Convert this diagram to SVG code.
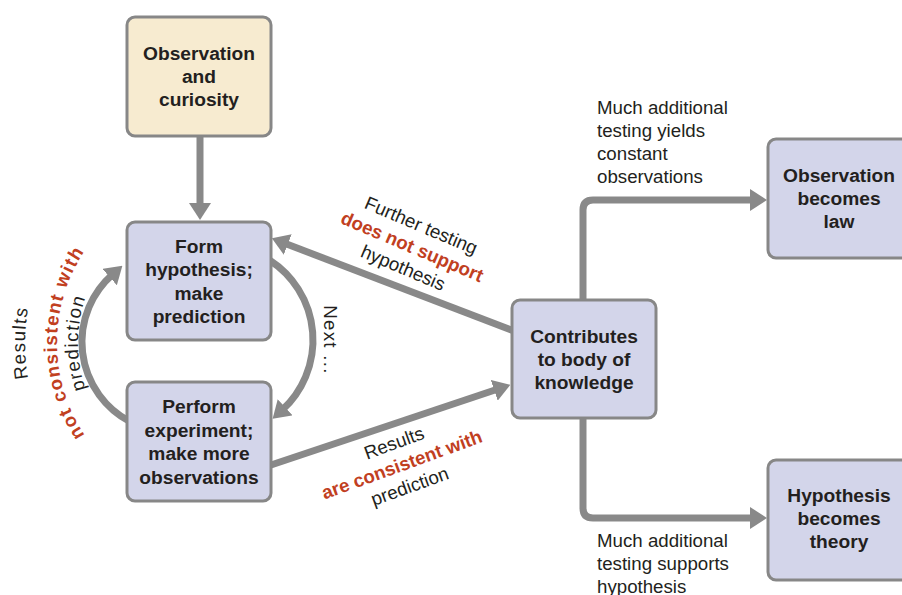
<svg xmlns="http://www.w3.org/2000/svg" width="902" height="595" viewBox="0 0 902 595">
<style>
.box{fill:#d3d5ea;stroke:#878787;stroke-width:3}
.start{fill:#f7ebd0;stroke:#878787;stroke-width:3}
.nl{font-family:"Liberation Sans",Arial,sans-serif;font-weight:bold;font-size:19.2px;fill:#231f20;text-anchor:middle}
.lb{font-family:"Liberation Sans",Arial,sans-serif;font-size:18.7px;fill:#231f20}
.red{font-weight:bold;fill:#c1401f}
.sp{letter-spacing:1.3px}
.con{fill:none;stroke:#898989;stroke-width:7;marker-end:url(#ah)}
</style>
<defs>
<marker id="ah" markerUnits="userSpaceOnUse" markerWidth="17" markerHeight="22" viewBox="0 0 17 22" refX="4" refY="11" orient="auto">
<path d="M0,0 L17,11 L0,22 z" fill="#898989"/>
</marker>
<path id="arcR" d="M124.5,515.3 A199,199 0 0 1 124.5,170.7"/>
<path id="arcN" d="M140.5,487.6 A167,167 0 0 1 140.5,198.4"/>
<path id="arcP" d="M151,469.4 A146,146 0 0 1 151,216.6"/>
</defs>

<g id="connectors">
<path class="con" d="M200,135 V207"/>
<path class="con" d="M514,331 L284,243"/>
<path class="con" d="M268,466 L498,389"/>
<path class="con" d="M129.7,421.5 A90,90 0 0 1 112.6,274.4"/>
<path class="con" d="M269.7,260.3 A95,95 0 0 1 282.2,410"/>
<path class="con" d="M583,300 V210 Q583,200 593,200 H754"/>
<path class="con" d="M583,418 V508 Q583,518 593,518 H754"/>
</g>

<g id="labels">
<text class="lb" x="597" y="114">Much additional</text>
<text class="lb" x="597" y="137">testing yields</text>
<text class="lb" x="597" y="160">constant</text>
<text class="lb" x="597" y="183">observations</text>
<text class="lb" x="597" y="547">Much additional</text>
<text class="lb" x="597" y="570">testing supports</text>
<text class="lb" x="597" y="593">hypothesis</text>
<g transform="translate(412,247) rotate(23)">
<text class="lb" x="0" y="-17" text-anchor="middle">Further testing</text>
<text class="lb red" x="0" y="6" text-anchor="middle">does not support</text>
<text class="lb" x="0" y="29" text-anchor="middle">hypothesis</text>
</g>
<g transform="translate(402,465) rotate(-20)">
<text class="lb" x="0" y="-17" text-anchor="middle">Results</text>
<text class="lb red" x="0" y="6" text-anchor="middle">are consistent with</text>
<text class="lb" x="0" y="29" text-anchor="middle">prediction</text>
</g>
<g transform="translate(330,340) rotate(90)">
<text class="lb sp" x="0" y="6" text-anchor="middle">Next ...</text>
</g>
<text class="lb sp" text-anchor="middle"><textPath href="#arcR" startOffset="50%">Results</textPath></text>
<text class="lb red sp" text-anchor="middle"><textPath href="#arcN" startOffset="50%">not consistent with</textPath></text>
<text class="lb sp" text-anchor="middle"><textPath href="#arcP" startOffset="50%">prediction</textPath></text>
</g>

<g id="observation">
<rect class="start" x="127" y="17" width="144" height="119" rx="8"/>
<text class="nl" x="199" y="60">Observation</text>
<text class="nl" x="199" y="83">and</text>
<text class="nl" x="199" y="106">curiosity</text>
</g>
<g id="hypothesis">
<rect class="box" x="127" y="222" width="144" height="118" rx="8"/>
<text class="nl" x="199" y="253">Form</text>
<text class="nl" x="199" y="276">hypothesis;</text>
<text class="nl" x="199" y="300">make</text>
<text class="nl" x="199" y="323">prediction</text>
</g>
<g id="experiment">
<rect class="box" x="127" y="382" width="144" height="119" rx="8"/>
<text class="nl" x="199" y="413">Perform</text>
<text class="nl" x="199" y="437">experiment;</text>
<text class="nl" x="199" y="460">make more</text>
<text class="nl" x="199" y="484">observations</text>
</g>
<g id="knowledge">
<rect class="box" x="512" y="300" width="144" height="118" rx="8"/>
<text class="nl" x="584" y="343">Contributes</text>
<text class="nl" x="584" y="366">to body of</text>
<text class="nl" x="584" y="389">knowledge</text>
</g>
<g id="law">
<rect class="box" x="768" y="139" width="144" height="119" rx="8"/>
<text class="nl" x="839" y="182">Observation</text>
<text class="nl" x="839" y="205">becomes</text>
<text class="nl" x="839" y="228">law</text>
</g>
<g id="theory">
<rect class="box" x="768" y="460" width="144" height="120" rx="8"/>
<text class="nl" x="839" y="502">Hypothesis</text>
<text class="nl" x="839" y="525">becomes</text>
<text class="nl" x="839" y="548">theory</text>
</g>
</svg>
